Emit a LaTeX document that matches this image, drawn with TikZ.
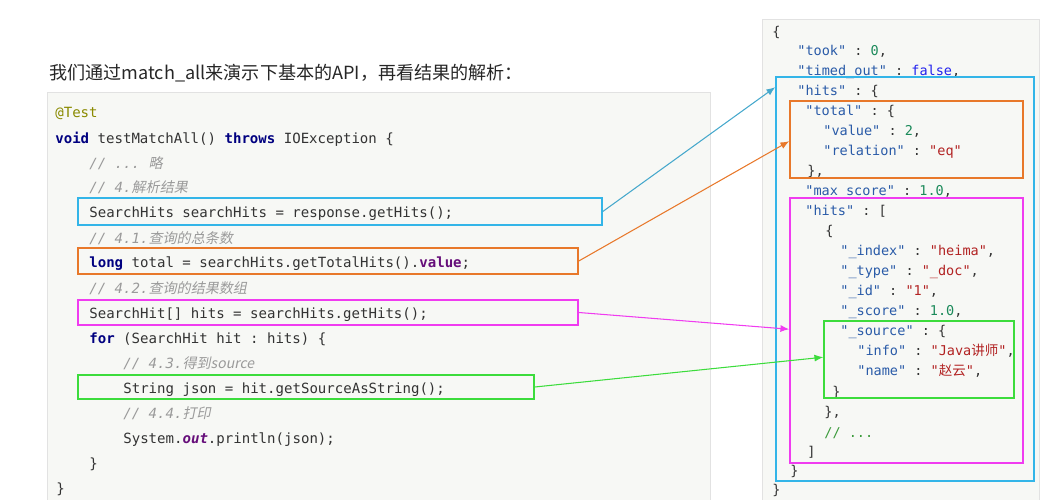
\documentclass[tikz,border=0pt]{standalone}
\usepackage{fontspec}
\setmainfont{Noto Sans CJK SC}
\setmonofont{DejaVu Sans Mono}
\newfontfamily\cjk{Noto Sans CJK SC}
\newfontfamily\cjkit{Noto Sans CJK SC}[FakeSlant=0.2]
\usetikzlibrary{arrows.meta,fit,calc}

\definecolor{panelbg}{HTML}{F7F8F5}
\definecolor{panelrule}{HTML}{E2E2E2}
\definecolor{codetxt}{HTML}{333333}
\definecolor{kwblue}{HTML}{000080}
\definecolor{annot}{HTML}{8A8A00}
\definecolor{cmtgray}{HTML}{9A9A9A}
\definecolor{fldpurple}{HTML}{660E7A}
\definecolor{jkeyblue}{HTML}{2A5BA8}
\definecolor{jnumgreen}{HTML}{1B8A5A}
\definecolor{jstrred}{HTML}{B22222}
\definecolor{jboolblue}{HTML}{2222EE}
\definecolor{jcmtgreen}{HTML}{3A9A3A}
\definecolor{hlblue}{HTML}{33B5E8}
\definecolor{hlorange}{HTML}{E8782A}
\definecolor{hlpink}{HTML}{F03CF0}
\definecolor{hlgreen}{HTML}{3CDC3C}
\definecolor{lnblue}{HTML}{45A8CC}

% code colouring
\newcommand{\codekw}[1]{{\bfseries\color{kwblue}#1}}
\newcommand{\codefld}[1]{{\bfseries\color{fldpurple}#1}}
\newcommand{\codecmt}[1]{{\itshape\color{cmtgray}#1}}
\newcommand{\jkey}[1]{{\color{jkeyblue}"#1"}}
\newcommand{\jnum}[1]{{\color{jnumgreen}#1}}
\newcommand{\jstr}[1]{{\color{jstrred}"#1"}}

\begin{document}
\begin{tikzpicture}[x=0.02cm,y=-0.02cm,
    code/.style={anchor=west,inner sep=0pt,text height=7.7pt,text depth=1.3pt,
      font=\ttfamily\fontsize{8}{9}\selectfont,text=codetxt},
    json/.style={anchor=west,inner sep=0pt,text height=7.7pt,text depth=1.3pt,
      font=\ttfamily\fontsize{7.7}{9}\selectfont,text=codetxt},
    hl/.style={draw=#1,line width=0.9pt,inner sep=0pt},
    link/.style={draw=#1,line width=0.6pt,-{Latex[length=5pt,width=4pt]}}]
\useasboundingbox (0,0) rectangle (1052,500);

% panels
\filldraw[fill=panelbg,draw=panelrule] (47,92) rectangle (710,506);
\filldraw[fill=panelbg,draw=panelrule] (762,19) rectangle (1039,506);

\node[anchor=west,inner sep=0pt,font=\fontsize{10.3}{12}\selectfont,text=black!85]
  (title) at (49,73) {我们通过match\_all来演示下基本的API，再看结果的解析：};

% java code
\node[code] (c1) at (55,112) {\color{annot}@Test};
\node[code] (c2) at (55,138) {\codekw{void} testMatchAll() \codekw{throws} IOException \{};
\node[code] (c3) at (89,163) {\codecmt{// ... {\cjkit 略}}};
\node[code] (c4) at (89,187) {\codecmt{// 4.{\cjkit 解析结果}}};
\node[code] (c5) at (89,212) {SearchHits searchHits = response.getHits();};
\node[code] (c6) at (89,238) {\codecmt{// 4.1.{\cjkit 查询的总条数}}};
\node[code] (c7) at (89,262) {\codekw{long} total = searchHits.getTotalHits().\codefld{value};};
\node[code] (c8) at (89,288) {\codecmt{// 4.2.{\cjkit 查询的结果数组}}};
\node[code] (c9) at (89,313) {SearchHit[] hits = searchHits.getHits();};
\node[code] (c10) at (89,338) {\codekw{for} (SearchHit hit : hits) \{};
\node[code] (c11) at (123,363) {\codecmt{// 4.3.{\cjkit 得到source}}};
\node[code] (c12) at (123,388) {String json = hit.getSourceAsString();};
\node[code] (c13) at (123,413) {\codecmt{// 4.4.{\cjkit 打印}}};
\node[code] (c14) at (123,438) {System.\codefld{\itshape out}.println(json);};
\node[code] (c15) at (89,463) {\}};
\node[code] (c16) at (56,488) {\}};

% json result
\node[json] (j1) at (772,31) {\{};
\node[json] (j2) at (797,50) {\jkey{took} : \jnum{0},};
\node[json] (j3) at (797,70) {\jkey{timed\_out} : {\color{jboolblue}false},};
\node[json] (j4) at (797,90) {\jkey{hits} : \{};
\node[json] (j5) at (805,110) {\jkey{total} : \{};
\node[json] (j6) at (823,130) {\jkey{value} : \jnum{2},};
\node[json] (j7) at (823,150) {\jkey{relation} : \jstr{eq}};
\node[json] (j8) at (807,170) {\},};
\node[json] (j9) at (805,190) {\jkey{max\_score} : \jnum{1.0},};
\node[json] (j10) at (805,210) {\jkey{hits} : [};
\node[json] (j11) at (825,230) {\{};
\node[json] (j12) at (840,250) {\jkey{\_index} : \jstr{heima},};
\node[json] (j13) at (840,270) {\jkey{\_type} : \jstr{\_doc},};
\node[json] (j14) at (840,290) {\jkey{\_id} : \jstr{1},};
\node[json] (j15) at (840,310) {\jkey{\_score} : \jnum{1.0},};
\node[json] (j16) at (840,330) {\jkey{\_source} : \{};
\node[json] (j17) at (857,350) {\jkey{info} : {\color{jstrred}"Java{\cjk 讲师}"},};
\node[json] (j18) at (857,370) {\jkey{name} : {\color{jstrred}"{\cjk 赵云}"},};
\node[json] (j19) at (832,391) {\}};
\node[json] (j20) at (824,411) {\},};
\node[json] (j21) at (824,432) {{\color{jcmtgreen}// ...}};
\node[json] (j22) at (807,451) {]};
\node[json] (j23) at (790,470) {\}};
\node[json] (j24) at (772,489) {\}};

% highlight boxes, code side
\node[hl=hlblue,fit={(78,198) (602,225)}] (cHitsBox) {};
\node[hl=hlorange,fit={(78,248) (578,274)}] (cTotalBox) {};
\node[hl=hlpink,fit={(78,300) (578,325)}] (cArrBox) {};
\node[hl=hlgreen,fit={(78,375) (534,399)}] (cSrcBox) {};

% highlight boxes, json side
\node[hl=hlblue,fit={(776,77) (1034,481)}] (jHitsBox) {};
\node[hl=hlorange,fit={(790,101) (1023,178)}] (jTotalBox) {};
\node[hl=hlpink,fit={(790,198) (1023,463)}] (jArrBox) {};
\node[hl=hlgreen,fit={(824,321) (1014,398)}] (jSrcBox) {};

% links
\draw[link=lnblue] (cHitsBox.east) -- ($(jHitsBox.north west)+(0,11)$);
\draw[link=hlorange] (cTotalBox.east) -- ($(jTotalBox.north west)+(0,41)$);
\draw[link=hlpink] (cArrBox.east) -- ($(jArrBox.north west)+(0,132)$);
\draw[link=hlgreen] (cSrcBox.east) -- ($(jSrcBox.north west)+(0,37)$);
\end{tikzpicture}
\end{document}
